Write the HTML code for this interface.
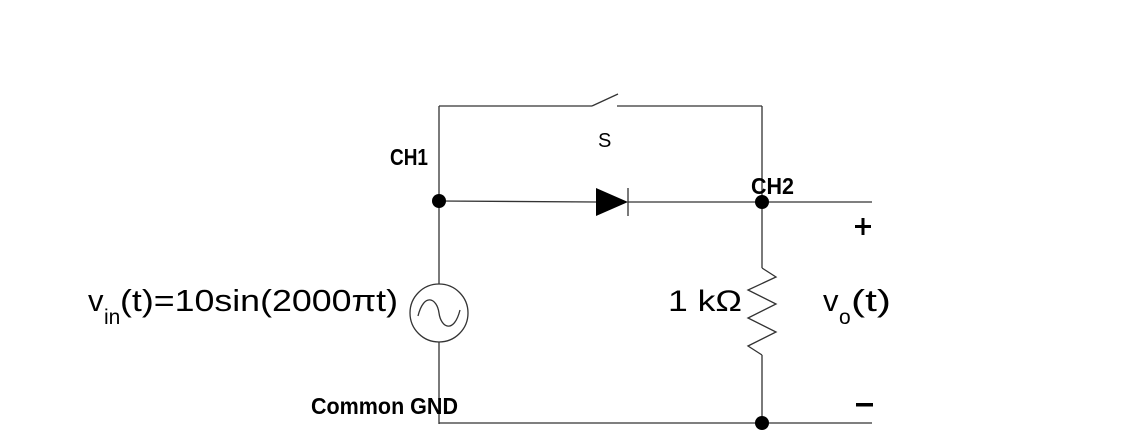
<!DOCTYPE html>
<html><head><meta charset="utf-8"><style>
html,body{margin:0;padding:0;background:#fff;}
svg{display:block;}
</style></head><body>
<svg width="1130" height="443" viewBox="0 0 1130 443" xmlns="http://www.w3.org/2000/svg">
<g stroke="#333" stroke-width="1.3" fill="none">
<line x1="439" y1="106" x2="439" y2="284"/>
<line x1="439" y1="342" x2="439" y2="424"/>
<line x1="439" y1="106" x2="592" y2="106"/>
<line x1="592" y1="106" x2="618" y2="94"/>
<line x1="617" y1="106" x2="762" y2="106"/>
<line x1="762" y1="106" x2="762" y2="268"/>
<line x1="762" y1="355" x2="762" y2="424"/>
<line x1="439" y1="201" x2="596" y2="202"/>
<line x1="628" y1="202" x2="872" y2="202"/>
<line x1="628" y1="188" x2="628" y2="216"/>
<line x1="439" y1="423" x2="872" y2="423"/>
<circle cx="439" cy="313" r="29"/>
<path d="M418 316 C424 292, 437 298, 439 313 C441 328, 454 334, 460 310"/>
<polyline points="762,268 776,277 748,290 776,304 748,318 776,332 748,346 762,355"/>
</g>
<polygon points="596,188 596,216 628,202" fill="#000"/>
<circle cx="439" cy="201" r="7" fill="#000"/>
<circle cx="762" cy="202" r="7" fill="#000"/>
<circle cx="762" cy="423" r="7" fill="#000"/>
<g font-family="'Liberation Sans',sans-serif" fill="#000" font-size="23" font-weight="bold">
<text x="390" y="165" textLength="38" lengthAdjust="spacingAndGlyphs">CH1</text>
<text x="598" y="147" font-size="20" font-weight="normal">S</text>
<text x="751" y="194" textLength="43" lengthAdjust="spacingAndGlyphs">CH2</text>
<text x="311" y="414" textLength="147" lengthAdjust="spacingAndGlyphs">Common GND</text>
</g>
<g font-family="'Liberation Sans',sans-serif" fill="#000">
<rect x="855" y="225" width="16" height="3"/>
<rect x="861.5" y="218" width="3" height="17"/>
<rect x="856" y="403" width="17" height="3.5"/>
<text x="88" y="311" font-size="31">v</text>
<text x="104" y="324" font-size="21">in</text>
<text x="120" y="311" font-size="31" textLength="278" lengthAdjust="spacingAndGlyphs">(t)=10sin(2000πt)</text>
<text x="668" y="311" font-size="30" textLength="74" lengthAdjust="spacingAndGlyphs">1 kΩ</text>
<text x="823" y="311" font-size="31">v</text>
<text x="839" y="324" font-size="21">o</text>
<text x="851" y="311" font-size="31" textLength="40" lengthAdjust="spacingAndGlyphs">(t)</text>
</g>
</svg>
</body></html>
